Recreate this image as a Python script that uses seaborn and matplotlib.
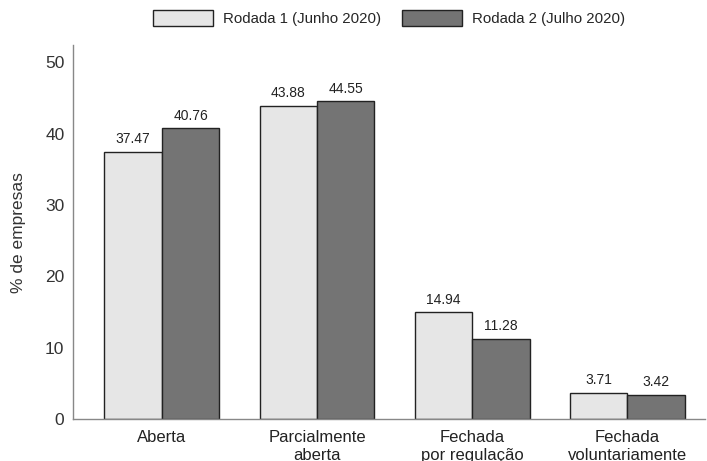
import matplotlib
matplotlib.use("Agg")
import matplotlib.pyplot as plt
import seaborn as sns
import pandas as pd

categories = ["Aberta", "Parcialmente\naberta", "Fechada\npor regulação", "Fechada\nvoluntariamente"]
rounds = ["Rodada 1 (Junho 2020)", "Rodada 2 (Julho 2020)"]
rodada1 = [37.47, 43.88, 14.94, 3.71]
rodada2 = [40.76, 44.55, 11.28, 3.42]

df = pd.DataFrame({
    "categoria": categories * 2,
    "rodada": [rounds[0]] * 4 + [rounds[1]] * 4,
    "valor": rodada1 + rodada2,
})

sns.set_theme(style="white")
plt.rcParams["font.family"] = ["Liberation Sans", "DejaVu Sans"]

fig = plt.figure(figsize=(7.07, 4.61), dpi=100)
ax = fig.add_axes([0.103, 0.091, 0.894, 0.811])

sns.barplot(data=df, x="categoria", y="valor", hue="rodada",
            palette=["#e6e6e6", "#747474"], edgecolor="#222222", linewidth=1.0,
            width=0.74, gap=0, ax=ax)

for cont in ax.containers:
    ax.bar_label(cont, fmt="%.2f", padding=4, fontsize=10, color="#222222")

ax.set_ylim(0, 52.4)
ax.set_xlim(-0.574, 3.5)
ax.set_yticks([0, 10, 20, 30, 40, 50])
ax.set_ylabel("% de empresas", fontsize=12.5, color="#333333", labelpad=14)
ax.set_xlabel("")
ax.tick_params(axis="y", labelsize=12.5, colors="#333333", length=0, pad=6)
ax.tick_params(axis="x", labelsize=12, colors="#222222", length=0, pad=8)
for s in ["top", "right"]:
    ax.spines[s].set_visible(False)
for s in ["left", "bottom"]:
    ax.spines[s].set_color("#888888")
    ax.spines[s].set_linewidth(1.0)

ax.legend(loc="lower center", bbox_to_anchor=(0.5, 1.015), ncol=2, frameon=False,
          fontsize=10.8, handlelength=4.0, handleheight=1.3, columnspacing=1.4,
          handletextpad=0.65)

fig.savefig("out.png", dpi=100)
